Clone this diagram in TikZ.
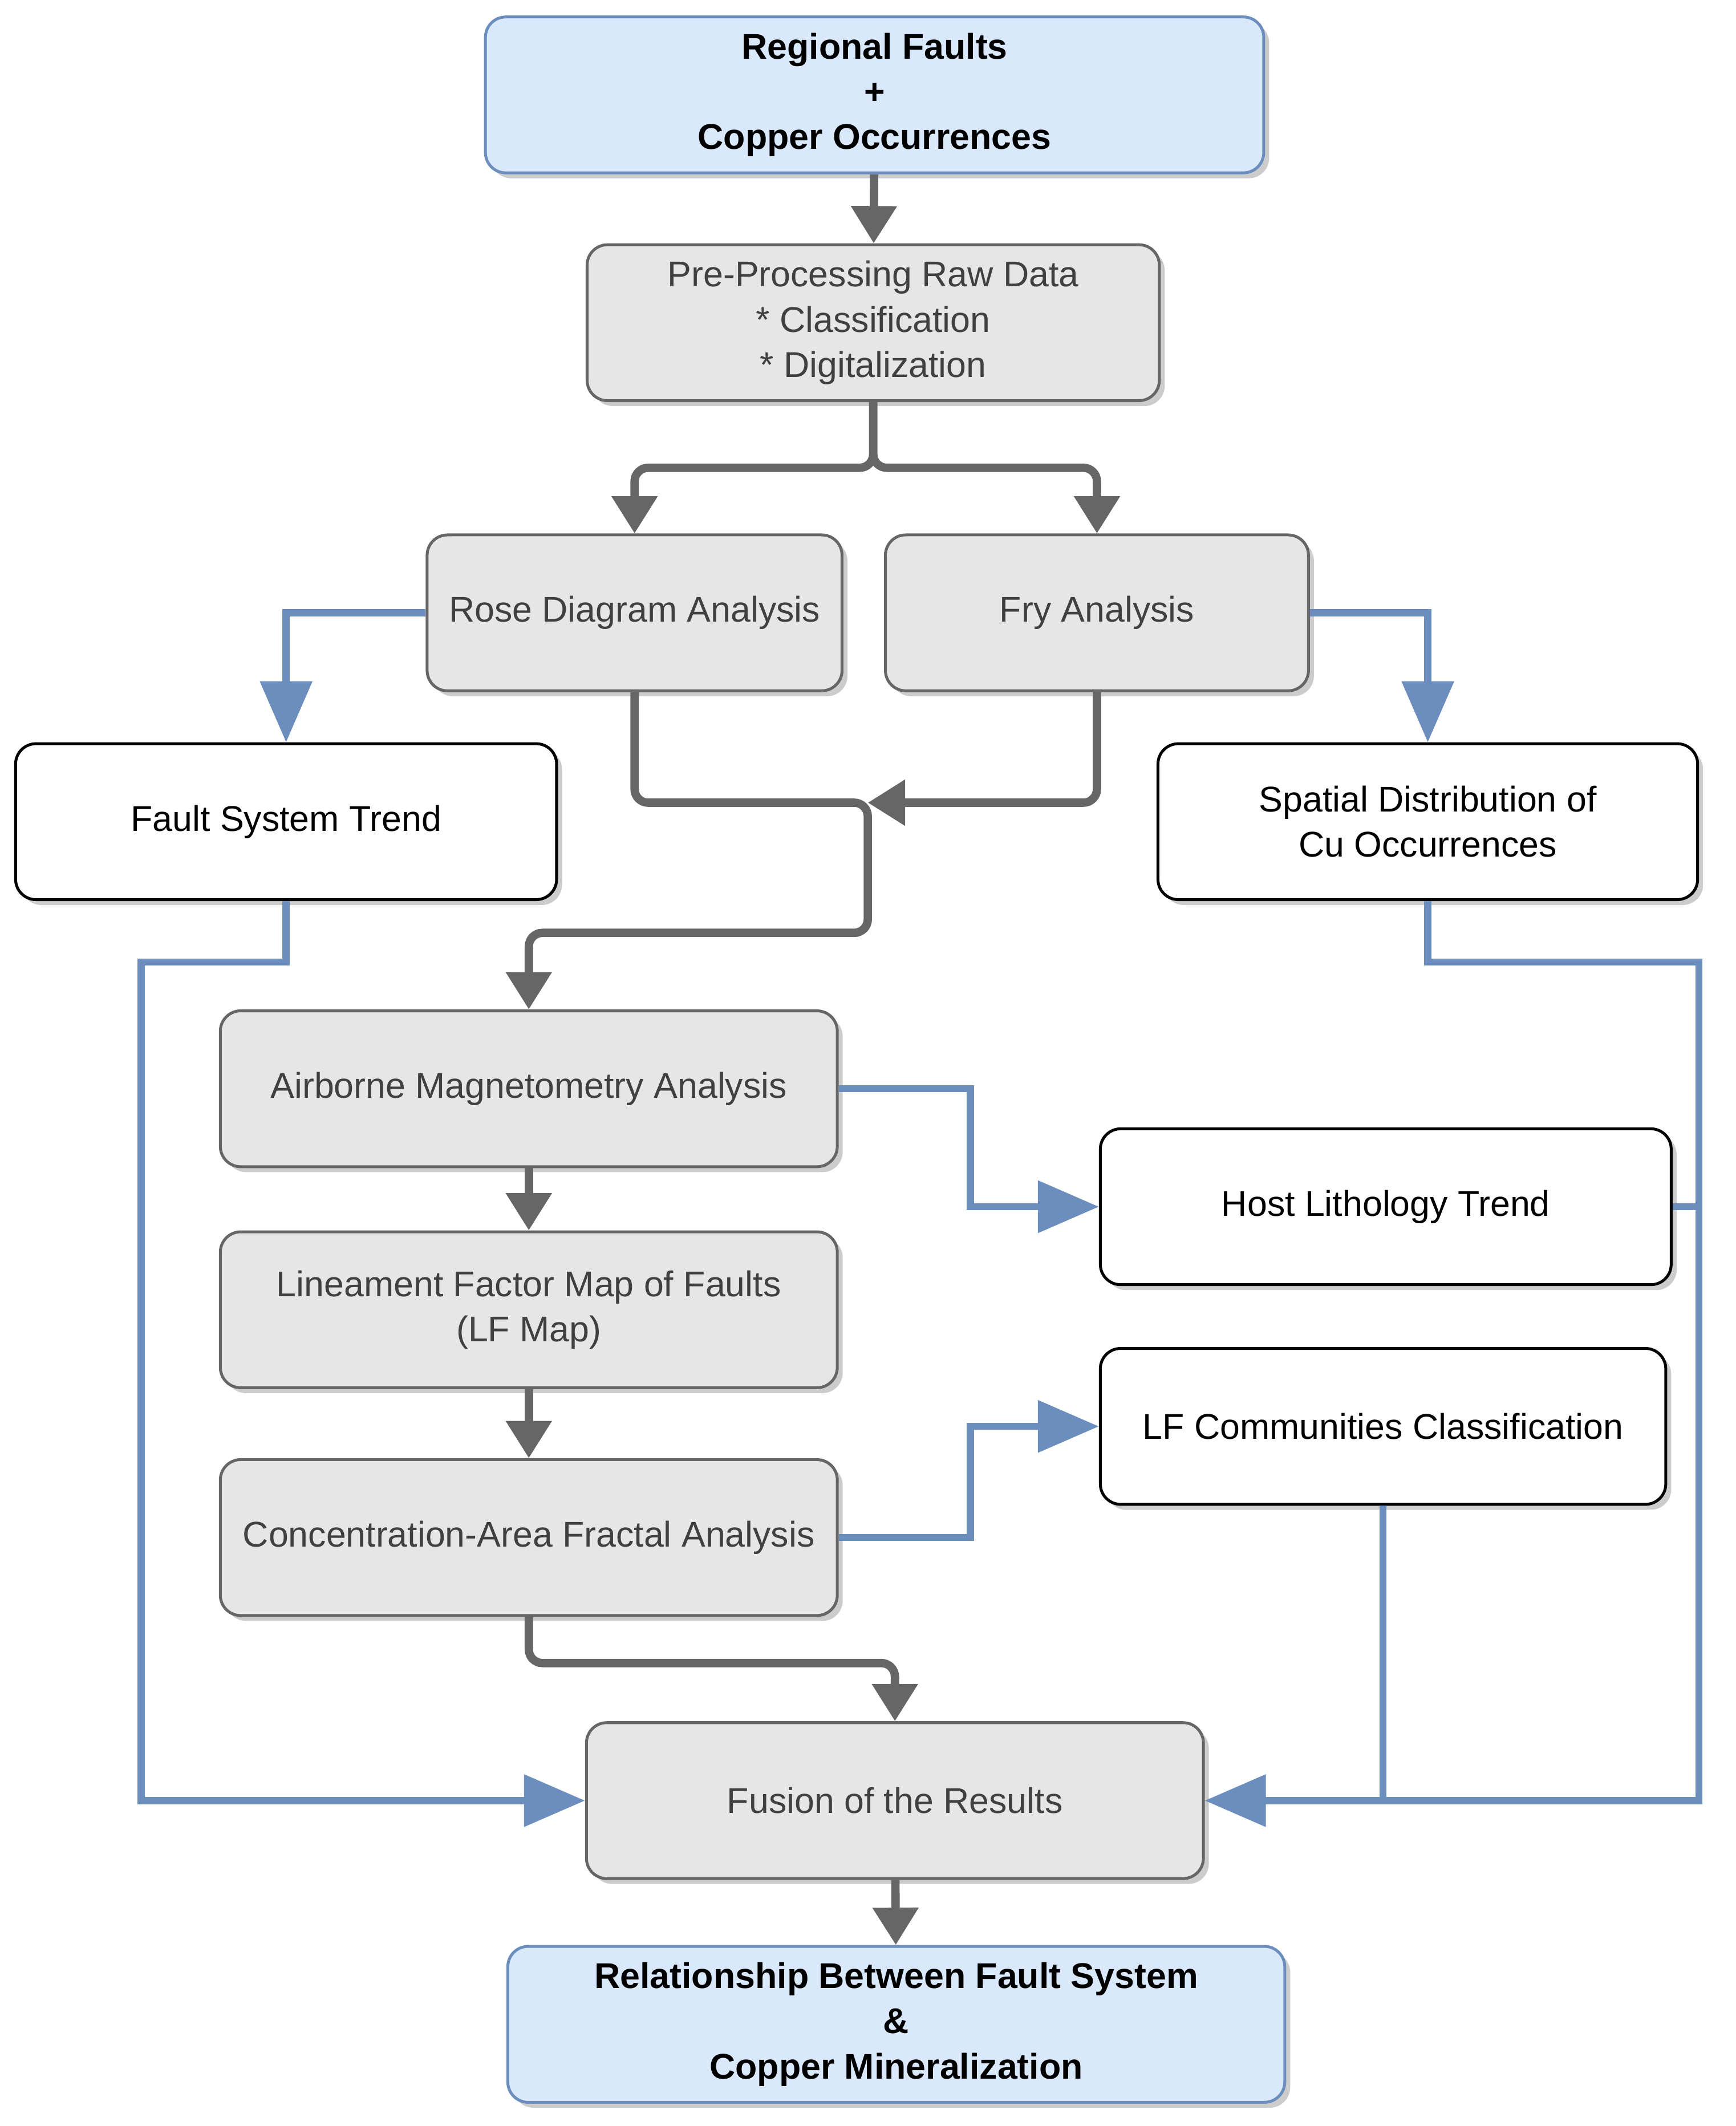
\documentclass[tikz,border=0pt]{standalone}
\usepackage{fontspec}
\setmainfont{Liberation Sans}
\usetikzlibrary{shadows,arrows.meta}
\definecolor{bluefill}{HTML}{DAE8FC}
\definecolor{blueline}{HTML}{6C8EBF}
\definecolor{grayfill}{HTML}{E6E6E6}
\definecolor{grayline}{HTML}{666666}
\tikzset{
  x = 0.02cm,
  y = -0.02cm,
  box/.style n args = {3}{ % box style: #1=fill, #2=border, #3=width
    draw = #2,
    fill = #1,
    rounded corners = 0.3cm,
    line width = 1.2pt,
    minimum width = #3*0.02cm,
    minimum height = 2.3cm,
    align = center,
    font = \fontsize{15}{19}\selectfont,
    drop shadow = {shadow xshift=0.08cm, shadow yshift=-0.08cm, fill=black!40},
  },
  start/.style = {box={bluefill}{blueline}{#1}, font=\fontsize{15}{19}\selectfont\bfseries},
  step/.style = {box={grayfill}{grayline}{#1}, text=black!75},
  result/.style = {box={white}{black}{#1}},
  garrow/.style = {draw=grayline, line width=3.5pt, rounded corners=0.2cm, -{Triangle[length=0.55cm,width=0.65cm]}},
  barrow/.style = {draw=blueline, line width=3pt, -{Triangle[length=0.9cm,width=0.75cm]}},
  bline/.style = {draw=blueline, line width=3pt},
}
\begin{document}
\begin{tikzpicture}
  \useasboundingbox (0,0) rectangle (1280,1568);
  % boxes
  \node[start=574] (top) at (645,70) {Regional Faults\\+\\Copper Occurrences};
  \node[step=422] (pre) at (644,238) {Pre-Processing Raw Data\\* Classification\\* Digitalization};
  \node[step=306] (rose) at (468,452) {Rose Diagram Analysis};
  \node[step=312] (fry) at (809,452) {Fry Analysis};
  \node[result=399] (fault) at (211,606) {Fault System Trend};
  \node[result=398] (spatial) at (1053,606) {Spatial Distribution of\\Cu Occurrences};
  \node[step=455] (air) at (390,803) {Airborne Magnetometry Analysis};
  \node[result=421] (host) at (1022,890) {Host Lithology Trend};
  \node[step=455] (lf) at (390,966) {Lineament Factor Map of Faults\\(LF Map)};
  \node[result=417] (comm) at (1020,1052) {LF Communities Classification};
  \node[step=455] (ca) at (390,1134) {Concentration-Area Fractal Analysis};
  \node[step=455] (fusion) at (660,1328) {Fusion of the Results};
  \node[start=573] (rel) at (661,1493) {Relationship Between Fault System\\\&\\Copper Mineralization};
  % helper coordinates
  \coordinate (split) at (644,345);
  \coordinate (join) at (640,592);
  \coordinate (left) at (104,1328);
  \coordinate (right) at (1253,1328);
  % gray flow
  \draw[garrow] (top) -- (pre);
  \draw[garrow] (pre.south) -- (split) -| (rose.north);
  \draw[garrow] (pre.south) -- (split) -| (fry.north);
  \draw[garrow] (rose.south) |- (join) -- ++(0,96) -| (air.north);
  \draw[garrow] (fry.south) |- (join);
  \draw[garrow] (air) -- (lf);
  \draw[garrow] (lf) -- (ca);
  \draw[garrow] (ca.south) -- ++(0,34) -| (fusion.north);
  \draw[garrow] (fusion) -- (rel);
  % blue flow
  \draw[barrow] (rose.west) -| (fault.north);
  \draw[barrow] (fry.east) -| (spatial.north);
  \draw[barrow] (fault.south) -- ++(0,45) -| (left) -- (fusion.west);
  \draw[barrow] (spatial.south) -- ++(0,45) -| (right) -- (fusion.east);
  \draw[bline] (host.east) -- (host.east -| right);
  \draw[bline] (comm.south) -- (comm.south |- right);
  \draw[barrow] (air.east) -- ++(97,0) |- (host.west);
  \draw[barrow] (ca.east) -- ++(97,0) |- (comm.west);
\end{tikzpicture}
\end{document}
